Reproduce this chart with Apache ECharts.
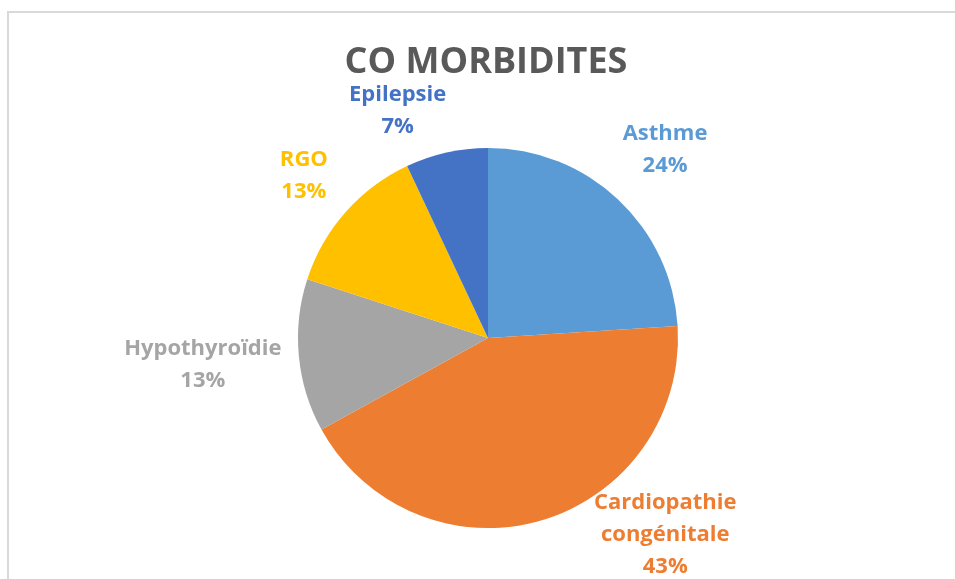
<!DOCTYPE html>
<html>
<head>
<meta charset="utf-8">
<title>CO MORBIDITES</title>
<script src="https://cdn.jsdelivr.net/npm/echarts@6/dist/echarts.min.js"></script>
<style>
  html, body { margin: 0; padding: 0; background: #fff; }
  #chart { width: 955px; height: 579px; }
</style>
</head>
<body>
<div id="chart"></div>
<script>
const categories = ['Asthme', 'Cardiopathie congénitale', 'Hypothyroïdie', 'RGO', 'Epilepsie'];
const values = [24, 43, 13, 13, 7];
const colors = ['#5B9BD5', '#ED7D31', '#A5A5A5', '#FFC000', '#4472C4'];

const cx = 488, cy = 338, R = 190;
const gap = 16.5;
const labelTop = 111, labelBottom = 535; // limites des centres d'étiquettes

// angle milieu de chaque part (0 = midi, sens horaire)
const total = values.reduce((a, b) => a + b, 0);
let acc = 0;
const midAngles = values.map(v => {
  const m = (acc + v / 2) / total * Math.PI * 2;
  acc += v;
  return m;
});

// distance du centre au coin le plus proche de la boîte d'étiquette
function boxDist(d, ux, uy, hw, hh) {
  const px = Math.max(0, Math.abs(ux) * d - hw);
  const py = Math.max(0, Math.abs(uy) * d - hh);
  return Math.hypot(px, py);
}

const chart = echarts.init(document.getElementById('chart'));

const option = {
  backgroundColor: '#fff',
  title: {
    text: 'CO MORBIDITES',
    left: 481,
    textAlign: 'center',
    top: 40,
    textStyle: {
      fontFamily: 'Open Sans',
      fontWeight: 'bold',
      fontSize: 36,
      color: '#595959'
    }
  },
  graphic: [{
    type: 'rect',
    shape: { x: 8, y: 12, width: 1000, height: 700 },
    style: { fill: 'none', stroke: '#D9D9D9', lineWidth: 2 },
    silent: true
  }],
  series: [{
    type: 'pie',
    center: [cx, cy],
    radius: R,
    startAngle: 90,
    clockwise: true,
    avoidLabelOverlap: false,
    itemStyle: { borderWidth: 0 },
    emphasis: { disabled: true },
    label: {
      show: true,
      position: 'outside',
      formatter: p => p.name.replace(' ', '\n') + '\n' + p.value + '%',
      fontFamily: 'Open Sans',
      fontWeight: 'bold',
      fontSize: 22,
      lineHeight: 32,
      align: 'center'
    },
    labelLine: { show: false },
    labelLayout: function (params) {
      const a = midAngles[params.dataIndex];
      const hw = params.labelRect.width / 2, hh = params.labelRect.height / 2;
      const ux = Math.sin(a), uy = -Math.cos(a);
      let lo = 0, hi = 1000;
      for (let k = 0; k < 50; k++) {
        const mid = (lo + hi) / 2;
        if (boxDist(mid, ux, uy, hw, hh) < R + gap) lo = mid; else hi = mid;
      }
      const d = lo;
      let x = cx + ux * d, y = cy + uy * d;
      if (y > labelBottom || y < labelTop) {
        y = Math.min(labelBottom, Math.max(labelTop, y));
        const dy = y - cy;
        x = cx + Math.sign(ux) * Math.sqrt(Math.max(0, d * d - dy * dy));
      }
      return { x: x, y: y, align: 'center', verticalAlign: 'middle' };
    },
    data: categories.map((name, i) => ({
      name: name,
      value: values[i],
      itemStyle: { color: colors[i] },
      label: { color: colors[i] }
    }))
  }]
};

chart.setOption(option);
</script>
</body>
</html>
